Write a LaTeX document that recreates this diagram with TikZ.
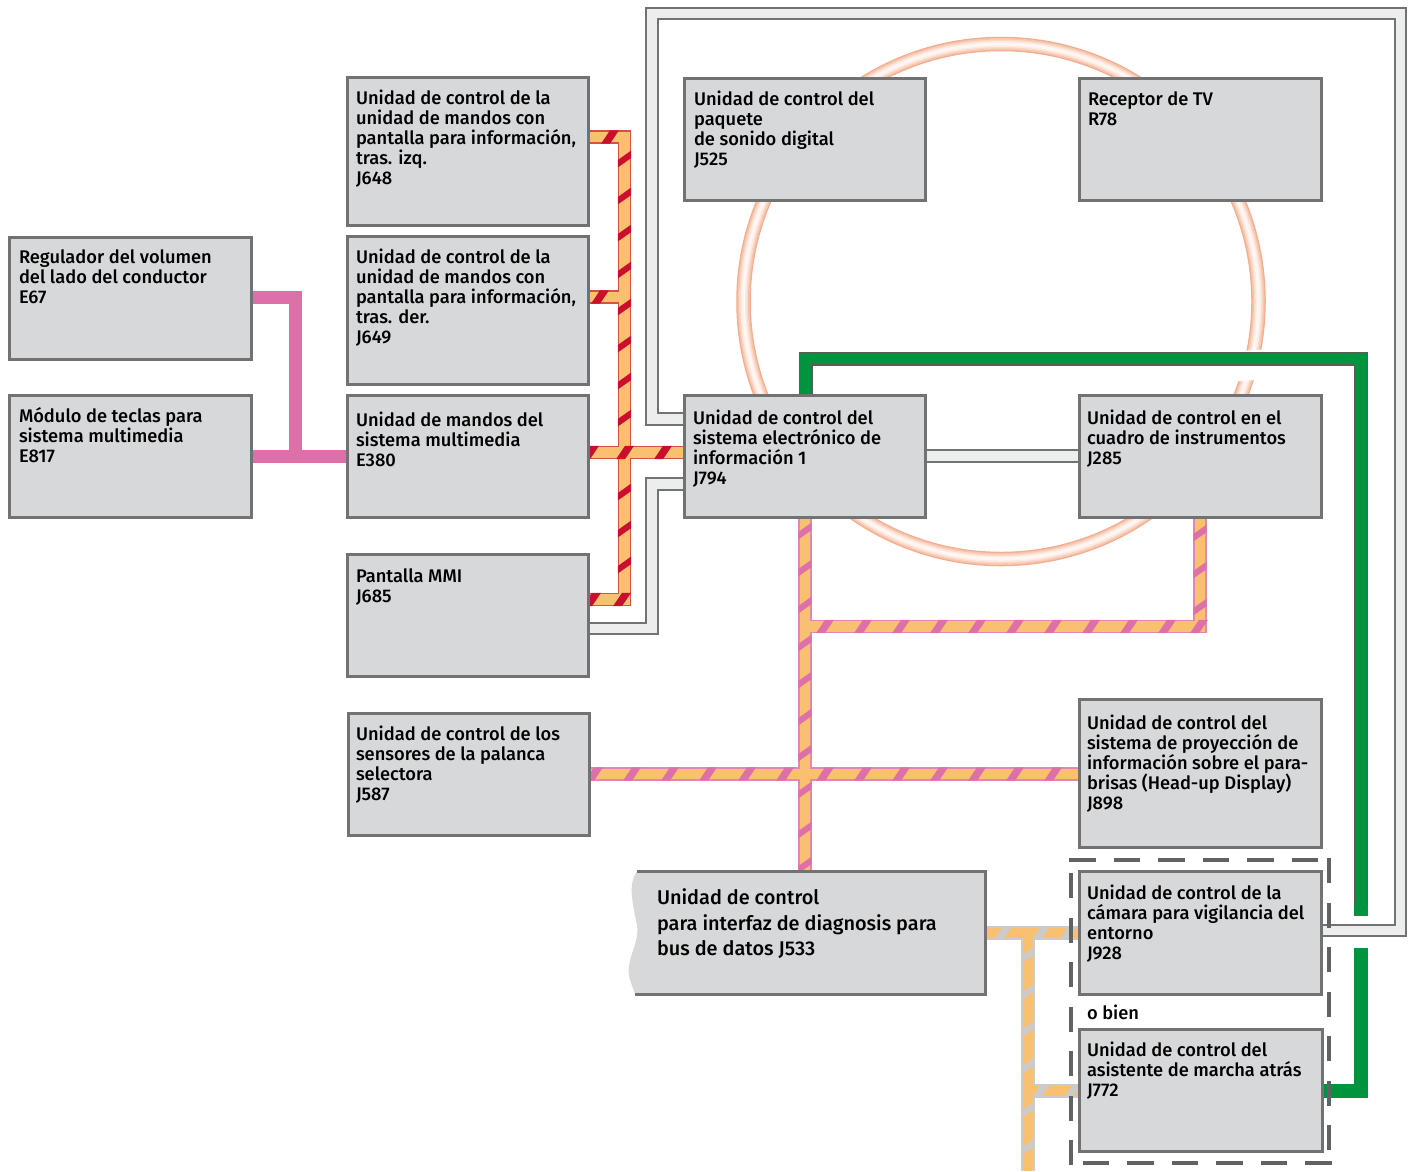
\documentclass[tikz,border=0pt]{standalone}
\usepackage{fontspec}
\setmainfont{Fira Sans}[BoldFont={Fira Sans Medium}]
\usetikzlibrary{calc}
\pgfdeclarelayer{bg}
\pgfsetlayers{bg,main}
\definecolor{boxfill}{HTML}{D7D8DA}
\definecolor{boxedge}{HTML}{717274}
\definecolor{busorange}{HTML}{F9C06F}
\definecolor{busred}{HTML}{C8102E}
\definecolor{buspink}{HTML}{DE70A9}
\definecolor{busgrey}{HTML}{CBCBCB}
\definecolor{busgreen}{HTML}{00943F}
\definecolor{buswhite}{HTML}{ECEEEE}
\definecolor{dashgrey}{HTML}{616264}
\tikzset{
  unitbox/.style={draw=boxedge,fill=boxfill,line width=3pt,rectangle,inner sep=0pt,outer sep=0pt,anchor=north west},
  unittext/.style={anchor=north west,inner sep=0pt,outer sep=0pt,align=left,font=\fontsize{18.3}{20}\selectfont\bfseries},
  bigtext/.style={anchor=north west,inner sep=0pt,outer sep=0pt,align=left,font=\fontsize{19.9}{25.4}\selectfont\bfseries},
}
% name, x1, y1, x2, y2, text x, first line centre y, text
\newcommand\unitblock[8]{%
  \pgfmathsetmacro\uw{#4-#2}\pgfmathsetmacro\uh{#5-#3}%
  \pgfmathsetmacro\uy{#7-8}%
  \node[unitbox,minimum width=\uw pt,minimum height=\uh pt] (#1) at (#2,#3) {};
  \node[unittext] (#1-t) at (#6,\uy) {\rule{0pt}{14pt}#8};
}
\newcommand\twolayer[3]{%
  \draw[line width=13.4pt,#1] #3;
  \draw[line width=10.2pt,#2] #3;
}
\newcommand\whitelayer[3]{%
  \draw[line width=13.8pt,#1] #3;
  \draw[line width=9.6pt,#2] #3;
}
\newcommand\vstripes[3]{\foreach \sy in {#3} {\fill[#1] (#2-6.7,\sy+1) -- (#2-6.7,\sy+8.5) -- (#2+6.7,\sy-1) -- (#2+6.7,\sy-8.5) -- cycle;}}
\newcommand\hstripes[3]{\foreach \sx in {#3} {\fill[#1] (\sx-9,#2+6.7) -- (\sx,#2+6.7) -- (\sx+9,#2-6.7) -- (\sx,#2-6.7) -- cycle;}}
\begin{document}
\begin{tikzpicture}[x=1pt,y=-1pt]
\useasboundingbox (0,0) rectangle (1418,1171);
% units
\unitblock{e67}{9}{237}{251}{359}{19}{257}{Regulador del volumen\\del lado del conductor\\E67}
\unitblock{e817}{9}{395}{251}{517}{19}{415}{Módulo de teclas para\\sistema multimedia\\E817}
\unitblock{j648}{347}{77}{588}{225}{356}{98}{Unidad de control de la\\unidad de mandos con\\pantalla para información,\\tras. izq.\\J648}
\unitblock{j649}{347}{236}{588}{384}{356}{257}{Unidad de control de la\\unidad de mandos con\\pantalla para información,\\tras. der.\\J649}
\unitblock{e380}{347}{395}{588}{517}{356}{420}{Unidad de mandos del\\sistema multimedia\\E380}
\unitblock{j685}{347}{554}{588}{676}{356}{576}{Pantalla MMI\\J685}
\unitblock{j587}{348}{713}{589}{835}{356}{734}{Unidad de control de los\\sensores de la palanca\\selectora\\J587}
\unitblock{j525}{684}{78}{925}{200}{694}{99}{Unidad de control del\\paquete\\de sonido digital\\J525}
\unitblock{r78}{1079}{78}{1321}{200}{1088}{99}{Receptor de TV\\R78}
\unitblock{j794}{684}{395}{925}{517}{693}{418}{Unidad de control del\\sistema electrónico de\\información 1\\J794}
\unitblock{j285}{1079}{395}{1321}{517}{1087}{418}{Unidad de control en el\\cuadro de instrumentos\\J285}
\unitblock{j898}{1079}{699}{1321}{847}{1087}{723}{Unidad de control del\\sistema de proyección de\\información sobre el para-\\brisas (Head-up Display)\\J898}
\unitblock{j928}{1079}{871}{1321}{994}{1087}{893}{Unidad de control de la\\cámara para vigilancia del\\entorno\\J928}
\unitblock{j772}{1079}{1029}{1322}{1151}{1087}{1050}{Unidad de control del\\asistente de marcha atrás\\J772}
% J533 with torn left edge
\fill[boxfill] (637,871) .. controls (628,885) and (632,900) .. (637,925) .. controls (640,945) and (624,960) .. (630,980) -- (635,994) -- (985,994) -- (985,871) -- cycle;
\draw[boxedge,line width=3pt] (637,871) -- (985,871) -- (985,994) -- (635,994);
\node[bigtext] (j533) at (657,889) {\rule{0pt}{14pt}Unidad de control\\para interfaz de diagnosis para\\bus de datos J533};
\coordinate (j533e) at (985,933);
\node[unittext] (obien) at (1087,1005) {\rule{0pt}{14pt}o bien};
% dashed frame
\draw[dashgrey,line width=4.8pt,dash pattern=on 26.5pt off 18pt] (1069,860) -- (1331,860);
\draw[dashgrey,line width=4.8pt,dash pattern=on 25pt off 19.5pt] (1329,858) -- (1329,1150);
\draw[dashgrey,line width=4.8pt,dash pattern=on 26.5pt off 18pt] (1331.5,1163) -- (1081,1163);
\draw[dashgrey,line width=4.8pt,dash pattern=on 25pt off 19.5pt] (1071,1165) -- (1071,872);
\begin{pgfonlayer}{bg}
% ring
\coordinate (ringc) at (1001,301.5);
\foreach \w/\c in {14.5/F2AC8E,12/F7C4AC,9/FAD8C8,6/FDEBE3,3/FFF6F2}{
  \definecolor{ringtmp}{HTML}{\c}
  \draw[ringtmp,line width=\w pt] (ringc) circle (257.5);
}
\draw[white,line width=30pt] (j794.north -| 805.5,358) -- (1361,358);
% white buses
\whitelayer{boxedge}{buswhite}{(j794.west |- 0,419) -- (652,419) -- (652,13.5) -- (1400.5,13.5) -- (1400.5,930.5) -- (j928.east |- 0,930.5)}
\whitelayer{boxedge}{buswhite}{(j794.west |- 0,484) -- (652,484) -- (652,628.5) -- (j685.east |- 0,628.5)}
\whitelayer{boxedge}{buswhite}{(j794.east |- 0,456) -- (j285.west |- 0,456)}
% green buses
\draw[line width=14pt,boxedge!80!black] (805.5,395) -- (805.5,358.5) -- (1361,358.5) -- (1361,916);
\draw[line width=11.5pt,busgreen] (805.5,395) -- (805.5,358.5) -- (1361,358.5) -- (1361,916);
\fill[busgreen] (1354,905) rectangle (1368,916);
\draw[line width=14pt,busgreen] (1361,948) -- (1361,1091) -- (j772.east |- 0,1091);
% pink solid bus
\draw[buspink,line width=13pt] (e67.east |- 0,297) -- (295.5,297) -- (295.5,456.5);
\draw[buspink,line width=13pt] (e817.east |- 0,456.5) -- (e380.west |- 0,456.5);
% red striped bus
\twolayer{busred!65!busorange}{busorange}{(j648.east |- 0,137) -- (624.5,137) -- (624.5,599.5) -- (j685.east |- 0,599.5) (j649.east |- 0,297) -- (624.5,297) (e380.east |- 0,452.5) -- (j794.west |- 0,452.5)}
\vstripes{busred}{624.5}{159,196,233,270,307,344,381,418,492,529,565}
\hstripes{busred}{452.5}{590,625,663}
\hstripes{busred}{137}{610}
\hstripes{busred}{297}{600}
\hstripes{busred}{599.5}{592,622}
% pink striped bus
\twolayer{buspink!85!white}{busorange}{(j794.south -| 805,0) -- (805,871) (805,626.5) -- (1200,626.5) -- (j285.south -| 1200,0) (j587.east |- 0,774) -- (j898.west |- 0,774)}
\vstripes{buspink}{805}{531,568,605,643,680,717,753,790,830,865}
\vstripes{buspink}{1200}{533,570,607}
\hstripes{buspink}{626.5}{825,863,901,939,977,1015,1053,1091,1129,1167,1199}
\hstripes{buspink}{774}{594,632,670,708,747,785,825,863,901,939,977,1015,1053}
% grey striped bus
\twolayer{busgrey}{busorange}{(j533e) -- (j928.west |- 0,933) (1028,933) -- (1028,1171) (1028,1091) -- (j772.west |- 0,1091)}
\vstripes{busgrey}{1028}{955,992,1029,1066,1110,1147}
\hstripes{busgrey}{933}{1003,1041,1068}
\hstripes{busgrey}{1091}{1041,1073}
\end{pgfonlayer}
\end{tikzpicture}
\end{document}
